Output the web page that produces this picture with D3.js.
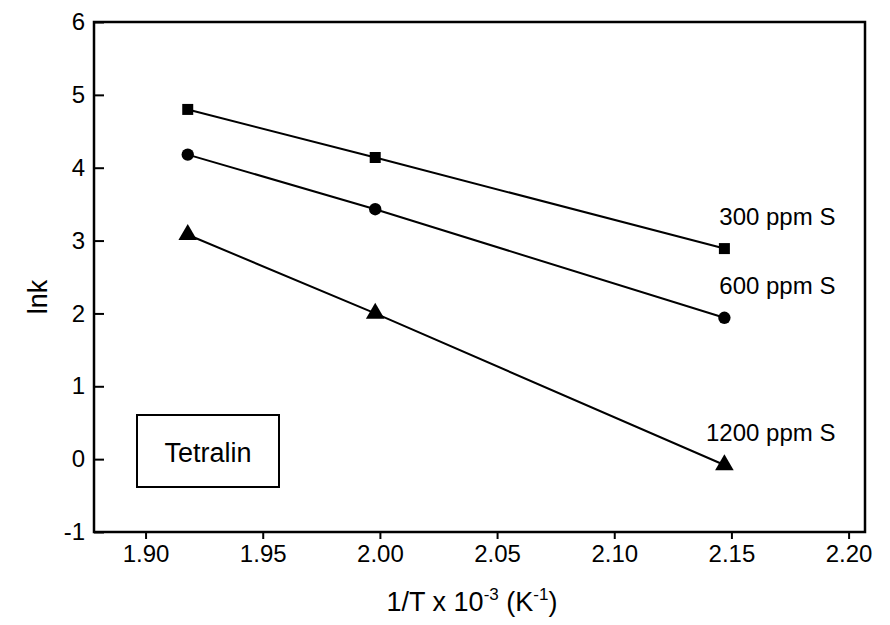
<!DOCTYPE html>
<html>
<head>
<meta charset="utf-8">
<script src="https://cdn.jsdelivr.net/npm/d3@7"></script>
<style>
  body { margin: 0; background: #fff; }
  text { font-family: Arial, "Liberation Sans", sans-serif; fill: #000; }
</style>
</head>
<body>
<div id="chart"></div>
<script>
// data
var invT = [1.918, 1.998, 2.147];
var series = ["300 ppm S", "600 ppm S", "1200 ppm S"];
var lnk300 = [4.80, 4.14, 2.89];
var lnk600 = [4.18, 3.43, 1.94];
var lnk1200 = [3.08, 2.00, -0.08];
var xTicks = [1.90, 1.95, 2.00, 2.05, 2.10, 2.15, 2.20];
var yTicks = [-1, 0, 1, 2, 3, 4, 5, 6];

var W = 890, H = 625;
var margin = {top: 22, right: 25, bottom: 93, left: 94};
var width = W - margin.left - margin.right,
    height = H - margin.top - margin.bottom;

var svg = d3.select("#chart").append("svg")
    .attr("width", W)
    .attr("height", H);

var g = svg.append("g")
    .attr("transform", "translate(" + margin.left + "," + margin.top + ")");

var x = d3.scaleLinear().domain([1.878, 2.207]).range([0, width]);
var y = d3.scaleLinear().domain([-1, 6]).range([height, 0]);

// frame
g.append("rect")
    .attr("width", width)
    .attr("height", height)
    .attr("fill", "none")
    .attr("stroke", "#000")
    .attr("stroke-width", 2.5);

// x axis, ticks outside
var xAxis = g.append("g")
    .attr("transform", "translate(0," + height + ")")
    .call(d3.axisBottom(x).tickValues(xTicks).tickFormat(d3.format(".2f"))
      .tickSize(7).tickPadding(6));
xAxis.attr("font-size", 24).attr("font-family", null);
xAxis.select(".domain").remove();
xAxis.selectAll("line").attr("stroke-width", 2);

// y axis, ticks inside (plain hyphen for the minus, like the original)
var yAxis = g.append("g")
    .call(d3.axisLeft(y).tickValues(yTicks).tickFormat(function(d) { return String(d); })
      .tickSize(-10).tickPadding(9));
yAxis.attr("font-size", 24).attr("font-family", null);
yAxis.select(".domain").remove();
yAxis.selectAll("line").attr("stroke-width", 2);

// axis titles
svg.append("text")
    .attr("transform", "translate(47," + (margin.top + height / 2 + 20) + ") rotate(-90)")
    .attr("text-anchor", "middle")
    .attr("font-size", 27)
    .text("lnk");

var xt = svg.append("text")
    .attr("x", 472)
    .attr("y", 611)
    .attr("text-anchor", "middle")
    .attr("font-size", 27);
xt.append("tspan").text("1/T x 10");
xt.append("tspan").attr("dy", -11).attr("font-size", 17).text("-3");
xt.append("tspan").attr("dy", 11).text(" (K");
xt.append("tspan").attr("dy", -11).attr("font-size", 17).text("-1");
xt.append("tspan").attr("dy", 11).text(")");

var line = d3.line()
    .x(function(d) { return x(d[0]); })
    .y(function(d) { return y(d[1]); });

var data = [lnk300, lnk600, lnk1200].map(function(vals, i) {
  return {name: series[i], pts: invT.map(function(t, j) { return [t, vals[j]]; })};
});

var shapes = [d3.symbolSquare, d3.symbolCircle, d3.symbolTriangle];
var sizes = [121, 120, 150];

data.forEach(function(s, i) {
  g.append("path")
      .datum(s.pts)
      .attr("d", line)
      .attr("fill", "none")
      .attr("stroke", "#000")
      .attr("stroke-width", 2);

  g.selectAll(".pt" + i)
    .data(s.pts)
    .enter().append("path")
      .attr("class", "pt" + i)
      .attr("transform", function(d) { return "translate(" + x(d[0]) + "," + y(d[1]) + ")"; })
      .attr("d", d3.symbol().type(shapes[i]).size(sizes[i]))
      .attr("fill", "#000");

  // series label above last point
  var last = s.pts[s.pts.length - 1];
  g.append("text")
      .attr("x", x(last[0]) + 111)
      .attr("y", y(last[1]) - 24)
      .attr("text-anchor", "end")
      .attr("font-size", 24)
      .text(s.name);
});

// Tetralin box
svg.append("rect")
    .attr("x", 137).attr("y", 415)
    .attr("width", 142).attr("height", 72)
    .attr("fill", "#fff")
    .attr("stroke", "#000")
    .attr("stroke-width", 2);
svg.append("text")
    .attr("x", 208).attr("y", 462)
    .attr("text-anchor", "middle")
    .attr("font-size", 27)
    .text("Tetralin");
</script>
</body>
</html>
